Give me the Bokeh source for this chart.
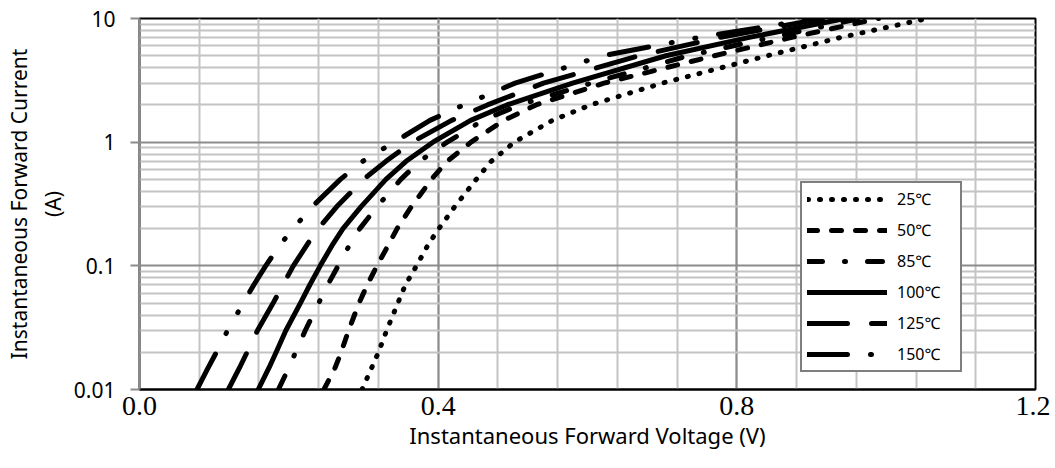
from bokeh.plotting import figure
from bokeh.models import FixedTicker, Legend, LegendItem, NumeralTickFormatter
from bokeh.embed import file_html
from bokeh.resources import INLINE

# ---- data ----
current_a = [0.01, 0.015, 0.02, 0.03, 0.05, 0.07, 0.1, 0.15, 0.2, 0.3,
             0.5, 0.7, 1, 1.5, 2, 3, 5, 7, 10]
v_25c = [0.298, 0.311, 0.320, 0.331, 0.346, 0.356, 0.371, 0.387, 0.401, 0.422,
         0.451, 0.471, 0.502, 0.553, 0.604, 0.700, 0.841, 0.938, 1.055]
v_50c = [0.247, 0.262, 0.270, 0.280, 0.294, 0.305, 0.318, 0.334, 0.345, 0.364,
         0.391, 0.412, 0.444, 0.488, 0.531, 0.622, 0.770, 0.872, 0.990]
v_85c = [0.186, 0.200, 0.209, 0.222, 0.240, 0.252, 0.266, 0.282, 0.295, 0.318,
         0.350, 0.375, 0.412, 0.460, 0.509, 0.605, 0.735, 0.845, 0.965]
v_100c = [0.159, 0.1735, 0.183, 0.196, 0.2155, 0.228, 0.242, 0.259, 0.2725, 0.2965,
          0.330, 0.357, 0.393, 0.4435, 0.492, 0.580, 0.705, 0.815, 0.945]
v_125c = [0.119, 0.134, 0.144, 0.158, 0.179, 0.192, 0.206, 0.225, 0.2395, 0.264,
          0.300, 0.330, 0.365, 0.418, 0.466, 0.541, 0.669, 0.776, 0.915]
v_150c = [0.077, 0.092, 0.103, 0.118, 0.139, 0.153, 0.169, 0.189, 0.206, 0.231,
          0.269, 0.299, 0.341, 0.389, 0.434, 0.503, 0.621, 0.748, 0.905]

series_labels = ["25℃", "50℃", "85℃", "100℃", "125℃", "150℃"]
series_values = [v_25c, v_50c, v_85c, v_100c, v_125c, v_150c]

x_ticks = [0.0, 0.4, 0.8, 1.2]
y_ticks = [0.01, 0.1, 1, 10]

# ---- styles ----
dash_styles = ["1 11", "10 14", "15 22 1 22", "solid", "40 24", "40 23 1 23 1 23"]

p = figure(width=1050, height=460, x_range=(0, 1.2), y_range=(0.01, 10),
           y_axis_type="log", output_backend="svg", toolbar_location=None,
           min_border_left=139, min_border_top=18, min_border_right=15,
           min_border_bottom=71, background_fill_color="white")

p.outline_line_color = "black"
p.outline_line_width = 2

x_minor = [round(0.08 * i, 2) for i in range(16)]
y_minor = [m * 10 ** e for e in range(-2, 1) for m in range(2, 10)]

p.xaxis.ticker = FixedTicker(ticks=x_ticks, minor_ticks=x_minor)
p.yaxis.ticker = FixedTicker(ticks=y_ticks, minor_ticks=y_minor)
p.xgrid.ticker = FixedTicker(ticks=x_ticks, minor_ticks=x_minor)
p.ygrid.ticker = FixedTicker(ticks=y_ticks, minor_ticks=y_minor)

for g in (p.xgrid, p.ygrid):
    g.grid_line_color = "#8c8c8c"
    g.grid_line_width = 2
    g.minor_grid_line_color = "#c4c4c4"
    g.minor_grid_line_width = 2

p.xaxis.formatter = NumeralTickFormatter(format="0.0")
p.yaxis.formatter = NumeralTickFormatter(format="0.[00]")

p.xaxis.axis_line_color = "black"
p.xaxis.axis_line_width = 2
p.xaxis.major_tick_out = 0
p.xaxis.major_tick_in = 0
p.xaxis.minor_tick_out = 0
p.xaxis.minor_tick_in = 0
p.xaxis.major_label_text_font = "Liberation Serif"
p.xaxis.major_label_text_font_size = "28px"
p.xaxis.major_label_text_color = "black"
p.xaxis.major_label_standoff = 7
p.xaxis.axis_label = "Instantaneous Forward Voltage (V)"
p.xaxis.axis_label_text_font = "Noto Sans"
p.xaxis.axis_label_text_font_size = "22px"
p.xaxis.axis_label_text_font_style = "normal"
p.xaxis.axis_label_text_color = "black"
p.xaxis.axis_label_standoff = 2

p.yaxis.axis_line_color = "#8c8c8c"
p.yaxis.axis_line_width = 2
p.yaxis.major_tick_out = 9
p.yaxis.major_tick_in = 0
p.yaxis.major_tick_line_color = "#8c8c8c"
p.yaxis.major_tick_line_width = 2
p.yaxis.minor_tick_out = 0
p.yaxis.minor_tick_in = 0
p.yaxis.major_label_text_font = "Noto Sans"
p.yaxis.major_label_text_font_size = "21px"
p.yaxis.major_label_text_color = "black"
p.yaxis.major_label_standoff = 15
p.yaxis.axis_label = "Instantaneous Forward Current\n(A)"
p.yaxis.axis_label_text_font = "Noto Sans"
p.yaxis.axis_label_text_font_size = "21px"
p.yaxis.axis_label_text_font_style = "normal"
p.yaxis.axis_label_text_color = "black"
p.yaxis.axis_label_standoff = 4

items = []
for label, vals, dash in zip(series_labels, series_values, dash_styles):
    r = p.line(vals, current_a, line_color="black", line_width=5,
               line_dash=dash, line_cap="round", line_join="round")
    items.append(LegendItem(label=label, renderers=[r]))

legend = Legend(items=items, location=(661, 17), orientation="vertical",
                border_line_color="black", border_line_width=2,
                background_fill_color="white", background_fill_alpha=1.0,
                padding=5, spacing=9, margin=0,
                glyph_width=80, glyph_height=22, label_height=22,
                label_standoff=10, label_width=58,
                label_text_font="Noto Sans", label_text_font_size="16px",
                label_text_color="black")
p.add_layout(legend)

open("out.html", "w").write(file_html(p, INLINE))
